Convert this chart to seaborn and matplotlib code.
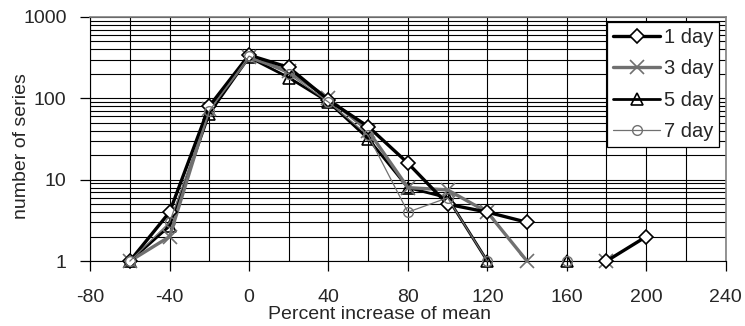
import numpy as np
import pandas as pd
import matplotlib
matplotlib.use("Agg")
import matplotlib.pyplot as plt
from matplotlib.ticker import MultipleLocator, LogLocator, NullFormatter, FixedLocator, FixedFormatter
import seaborn as sns

# data (NaN = no point / zero count)
pct = [-60, -40, -20, 0, 20, 40, 60, 80, 100, 120, 140, 160, 180, 200]
day1 = [1, 4, 80, 340, 240, 95, 45, 16, 5, 4, 3, np.nan, 1, 2]
day3 = [1, 2, 75, 320, 215, 100, 40, 8, 7.5, 4, 1, np.nan, 1, np.nan]
day5 = [1, 2.7, 65, 320, 180, 90, 32, 8, 6, 1, np.nan, 1, np.nan, np.nan]
day7 = [1, 3, 70, 330, 200, 90, 35, 4, 6, 1, np.nan, 1, np.nan, np.nan]
names = ["1 day", "3 day", "5 day", "7 day"]

sns.set_style("ticks")
plt.rcParams['font.family'] = ['Liberation Sans', 'DejaVu Sans']
plt.rcParams['axes.unicode_minus'] = False


def segments(vals):
    # split series at gaps so lines break where there is no data
    df = pd.DataFrame({"pct": pct, "n": vals})
    df["seg"] = df["n"].isna().cumsum()
    return df.dropna()


styles = {
    "1 day": dict(color="black", lw=2.4, marker="D", ms=7, mfc="white", mec="black", mew=1.2, zorder=5),
    "3 day": dict(color="#707070", lw=2.4, marker="x", ms=10, mec="#707070", mew=1.2, zorder=4),
    "5 day": dict(color="black", lw=2.0, marker="^", ms=9, mfc="none", mec="black", mew=1.2, zorder=3),
    "7 day": dict(color="#707070", lw=0.9, marker="o", ms=7, mfc="none", mec="#707070", mew=1.0, zorder=6),
}

fig = plt.figure(figsize=(7.45, 3.26), dpi=100)
ax = fig.add_axes([0.121, 0.199, 0.853, 0.749])

for name, vals in zip(names, [day1, day3, day5, day7]):
    d = segments(vals)
    sns.lineplot(data=d, x="pct", y="n", units="seg", estimator=None, ax=ax,
                 label=name, clip_on=False, **styles[name])

ax.set_yscale("log")
ax.set_xlim(-80, 240)
ax.set_ylim(1, 1000)

ax.xaxis.set_major_locator(MultipleLocator(40))
ax.xaxis.set_minor_locator(MultipleLocator(20))
ax.yaxis.set_major_locator(FixedLocator([1, 10, 100, 1000]))
ax.yaxis.set_major_formatter(FixedFormatter(["1", "10", "100", "1000"]))
ax.yaxis.set_minor_locator(LogLocator(base=10, subs=np.arange(2, 10)))
ax.yaxis.set_minor_formatter(NullFormatter())

ax.grid(True, which="both", color="black", lw=0.8)
ax.set_axisbelow(True)
ax.tick_params(which="major", direction="out", length=7, width=0.9, labelsize=14, color="black")
ax.tick_params(axis="x", which="major", pad=13)
ax.tick_params(axis="y", which="major", pad=10)
ax.tick_params(which="minor", length=0)

for s in ["top", "right"]:
    ax.spines[s].set_visible(True)
    ax.spines[s].set_color("#808080")
    ax.spines[s].set_linewidth(1.2)
ax.spines["left"].set_color("black")
ax.spines["bottom"].set_color("black")

ax.set_xlabel("Percent increase of mean", fontsize=14, va="bottom")
ax.xaxis.set_label_coords(0.455, -0.255)
ax.set_ylabel("number of series", fontsize=14, va="center")
ax.yaxis.set_label_coords(-0.108, 0.47)

# one legend entry per series
h, l = ax.get_legend_handles_labels()
uniq = dict(zip(l, h))
leg = ax.legend([uniq[n] for n in names], names, loc="upper right", fontsize=14.5,
                frameon=True, fancybox=False, edgecolor="black", framealpha=1,
                handlelength=2.3, handletextpad=0.2, borderpad=0.3, labelspacing=0.62,
                borderaxespad=0, bbox_to_anchor=(0.99, 0.98))
leg.get_frame().set_linewidth(0.9)

fig.savefig("out.png", dpi=100)
